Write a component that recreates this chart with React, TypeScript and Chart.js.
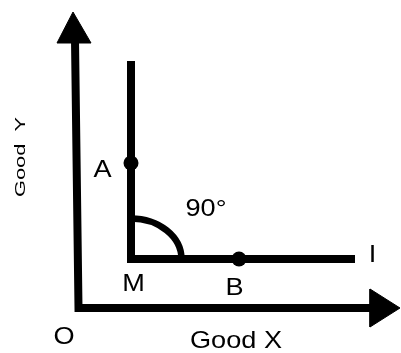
import React, { useEffect, useRef } from "react";
import { Chart, registerables } from "chart.js";

Chart.register(...registerables);

// Diagram units: origin O at (0,0); x = Good X, y = Good Y
const axisPath = [
  { x: -3.5, y: 268 },
  { x: 0, y: 0 },
  { x: 292, y: 0 },
];
const yArrowHead = [
  { x: -5.5, y: 296 },
  { x: -21.5, y: 265 },
  { x: 12.5, y: 265 },
  { x: -5.5, y: 296 },
];
const xArrowHead = [
  { x: 321.5, y: 0 },
  { x: 291.5, y: 19 },
  { x: 291.5, y: -19 },
  { x: 321.5, y: 0 },
];
const indifferenceCurve = [
  { x: 52.5, y: 247 },
  { x: 52.5, y: 49 },
  { x: 276.5, y: 49 },
];
const bundlePoints = [
  { x: 52.5, y: 145 }, // A
  { x: 160.5, y: 49 }, // B
];
const angleCorner = [{ x: 52.5, y: 49 }];
const angleRadius = [50.5, 40.5];

const labelTexts = ["A", "90°", "M", "B", "I", "O", "Good X"];
const labelX = [24, 127.5, 55, 156, 294, -14.5, 157.5];
const labelY = [139.5, 101, 26, 22, 54.5, -27, -31.5];
const yTitle = "Good  Y";
const yTitlePos = [-58.5, 151];

const X_MIN = -78.5;
const X_MAX = 322.5;
const Y_MIN = -45;
const Y_MAX = 308;

const FONT = "'Liberation Sans', Arial, Helvetica, sans-serif";

const decorPlugin = {
  id: "decor",
  afterDatasetsDraw(chart: any) {
    const { ctx, scales } = chart;
    const xs = scales.x;
    const ys = scales.y;
    // right angle arc
    const cx = xs.getPixelForValue(angleCorner[0].x);
    const cy = ys.getPixelForValue(angleCorner[0].y);
    const rx = xs.getPixelForValue(angleCorner[0].x + angleRadius[0]) - cx;
    const ry = cy - ys.getPixelForValue(angleCorner[0].y + angleRadius[1]);
    ctx.save();
    ctx.strokeStyle = "#000";
    ctx.lineWidth = 6.5;
    ctx.beginPath();
    ctx.ellipse(cx, cy, rx, ry, 0, -Math.PI / 2, 0);
    ctx.stroke();
    ctx.restore();

    // labels
    const size = 24;
    const capH = size * 0.716;
    labelTexts.forEach((t, i) => {
      const px = xs.getPixelForValue(labelX[i]);
      const py = ys.getPixelForValue(labelY[i]);
      ctx.save();
      ctx.fillStyle = "#000";
      ctx.font = `${size}px ${FONT}`;
      ctx.textAlign = "center";
      ctx.textBaseline = "alphabetic";
      ctx.translate(px, py);
      ctx.scale(1.13, 1);
      ctx.fillText(t, 0, capH / 2);
      ctx.restore();
    });

    // rotated y title
    const ts = 15;
    const tx = xs.getPixelForValue(yTitlePos[0]);
    const ty = ys.getPixelForValue(yTitlePos[1]);
    ctx.save();
    ctx.fillStyle = "#000";
    ctx.font = `${ts}px ${FONT}`;
    ctx.textAlign = "center";
    ctx.textBaseline = "alphabetic";
    ctx.translate(tx, ty);
    ctx.rotate(-Math.PI / 2);
    ctx.scale(1.45, 1);
    ctx.fillText(yTitle, 0, (ts * 0.716) / 2);
    ctx.restore();
  },
};

export default function App() {
  const ref = useRef<HTMLCanvasElement | null>(null);
  useEffect(() => {
    if (!ref.current) return;
    const lineDs = (data: any[], width: number) => ({
      data,
      showLine: true,
      borderColor: "#000",
      borderWidth: width,
      borderCapStyle: "butt",
      borderJoinStyle: "miter",
      pointRadius: 0,
      pointHoverRadius: 0,
      tension: 0,
      fill: false,
    });
    const triDs = (data: any[]) => ({
      data,
      showLine: true,
      borderColor: "#000",
      borderWidth: 1,
      backgroundColor: "#000",
      pointRadius: 0,
      tension: 0,
      fill: "shape",
    });
    const chart = new Chart(ref.current, {
      type: "scatter",
      data: {
        datasets: [
          lineDs(axisPath, 8) as any,
          triDs(yArrowHead) as any,
          triDs(xArrowHead) as any,
          lineDs(indifferenceCurve, 8) as any,
          {
            data: bundlePoints,
            showLine: false,
            pointRadius: 7.5,
            pointBackgroundColor: "#000",
            pointBorderWidth: 0,
            pointBorderColor: "#000",
          },
        ],
      },
      options: {
        responsive: false,
        animation: false,
        devicePixelRatio: 1,
        layout: { padding: 0, autoPadding: false },
        plugins: {
          legend: { display: false },
          tooltip: { enabled: false },
        },
        scales: {
          x: { type: "linear", min: X_MIN, max: X_MAX, display: false },
          y: { type: "linear", min: Y_MIN, max: Y_MAX, display: false },
        },
      },
      plugins: [decorPlugin],
    });
    return () => chart.destroy();
  }, []);
  return (
    <div style={{ position: "fixed", left: 0, top: 0, width: 401, height: 353, background: "#fff" }}>
      <canvas ref={ref} width={401} height={353} />
    </div>
  );
}
